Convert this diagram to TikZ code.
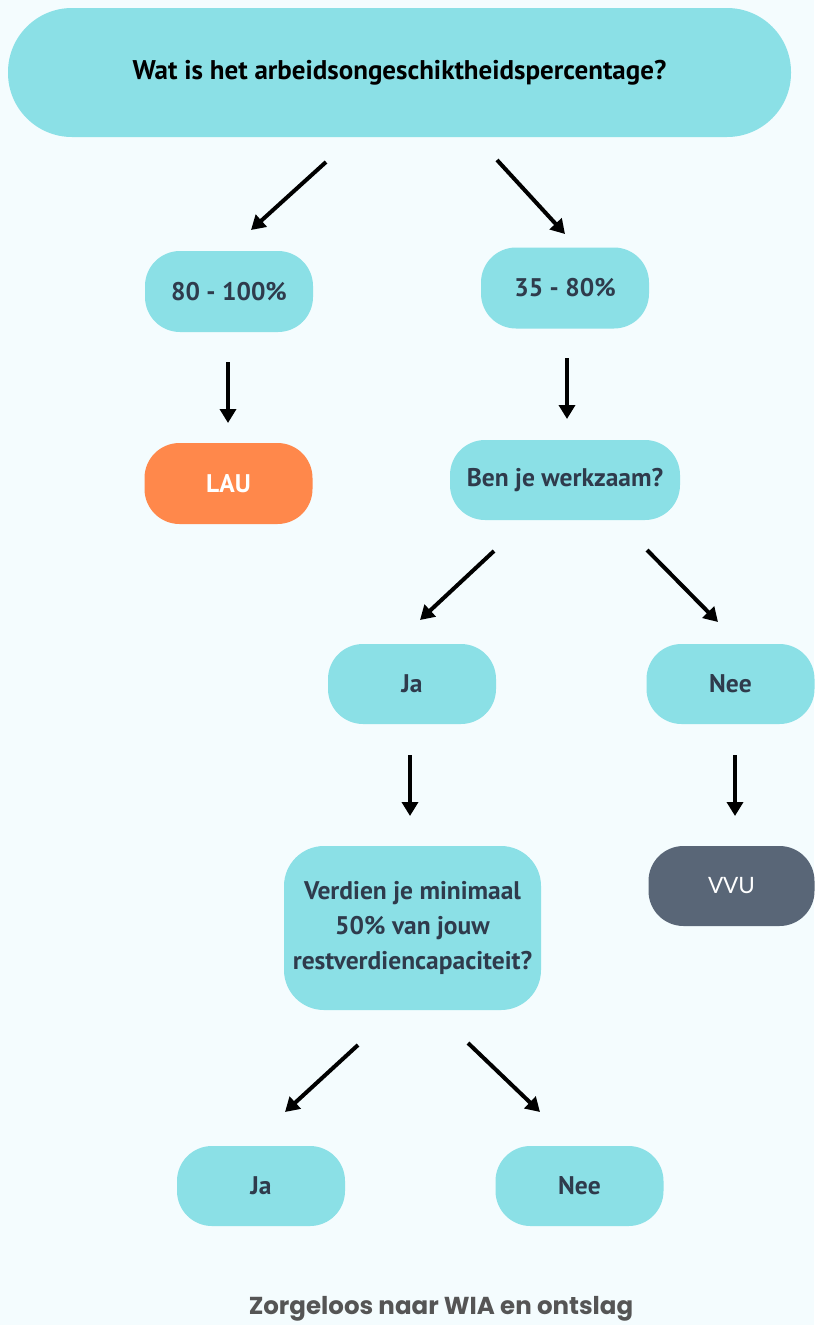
\documentclass[tikz,border=0pt]{standalone}
\usepackage{fontspec}
\setmainfont{PT Sans}
\newfontfamily\vvufont{Lato}
\newfontfamily\footfont{Poppins}
\usetikzlibrary{arrows.meta}
\definecolor{bg}{HTML}{F4FCFE}
\definecolor{teal}{HTML}{8BE0E6}
\definecolor{ink}{HTML}{2F3B4C}
\definecolor{orangebox}{HTML}{FF884B}
\definecolor{slatebox}{HTML}{596677}
\definecolor{footgray}{HTML}{555555}
\tikzset{
  box/.style={fill=teal, text=ink, font=\bfseries\fontsize{25.5}{29}\selectfont, inner sep=0pt, align=center},
  pill/.style={box, minimum width=168pt, minimum height=81pt, rounded corners=35pt},
  arr/.style={draw=black, line width=4pt, -{Triangle[length=14pt,width=16pt]}}
}
\begin{document}
\begin{tikzpicture}[x=1pt,y=-1pt]
\useasboundingbox (0,0) rectangle (814,1325);
\fill[bg] (0,0) rectangle (814,1325);

\node[box, minimum width=783pt, minimum height=129pt, rounded corners=64pt, text=black, font=\bfseries\fontsize{27}{30}\selectfont] (q) at (399.5,72.5) {Wat is het arbeidsongeschiktheidspercentage?};

\node[pill] (hi) at (229,291.5) {80 - 100\%};
\node[pill] (mid) at (565,288) {35 - 80\%};
\node[pill, fill=orangebox, text=white] (lau) at (228.5,483.5) {LAU};
\node[pill, minimum width=230pt, minimum height=80pt] (werk) at (565,480) {Ben je werkzaam?};
\node[pill, minimum height=80pt] (ja1) at (412,684) {Ja};
\node[pill, minimum height=80pt] (nee1) at (730.5,684) {Nee};
\node[pill, minimum width=166pt, minimum height=80pt, fill=slatebox, text=white, font=\vvufont\fontsize{22.5}{26}\selectfont] (vvu) at (731.5,886) {VVU};
\node[box, minimum width=257pt, minimum height=164pt, rounded corners=40pt, font=\bfseries\fontsize{25.5}{35}\selectfont] (verd) at (412.5,928) {Verdien je minimaal\\50\% van jouw\\restverdiencapaciteit?};
\node[pill, minimum height=80pt] (ja2) at (261,1186) {Ja};
\node[pill, minimum height=80pt] (nee2) at (579.5,1186) {Nee};

\node[text=footgray, font=\footfont\bfseries\fontsize{24.5}{28}\selectfont] (foot) at (441,1309) {Zorgeloos naar WIA en ontslag};

\coordinate (a1s) at (326,162); \coordinate (a1e) at (251,230);
\coordinate (a2s) at (497,160); \coordinate (a2e) at (565,234);
\coordinate (a3s) at (228,362); \coordinate (a3e) at (228,423);
\coordinate (a4s) at (567,358); \coordinate (a4e) at (567,419);
\coordinate (a5s) at (494,551); \coordinate (a5e) at (420,620);
\coordinate (a6s) at (647,550); \coordinate (a6e) at (718,622);
\coordinate (a7s) at (410,755); \coordinate (a7e) at (410,816);
\coordinate (a8s) at (735,755); \coordinate (a8e) at (735,816);
\coordinate (a9s) at (358,1045); \coordinate (a9e) at (285,1112);
\coordinate (a10s) at (468,1043); \coordinate (a10e) at (540,1112);

\foreach \i in {1,...,10} \draw[arr] (a\i s) -- (a\i e);
\end{tikzpicture}
\end{document}
